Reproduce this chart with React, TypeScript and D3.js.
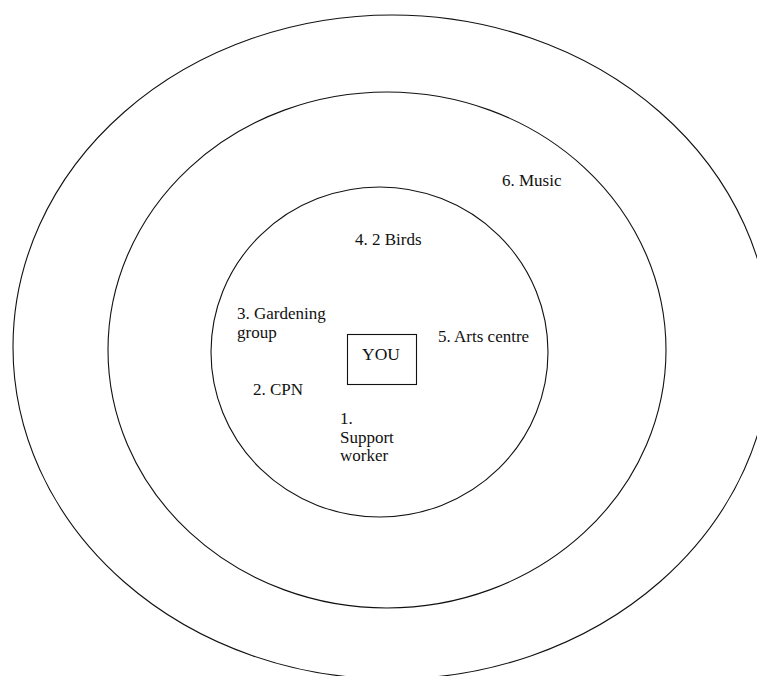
import React, { useEffect, useRef } from 'react'
import * as d3 from 'd3'

// circles of support, inner to outer
const rings = ['inner', 'middle', 'outer']

const labels = [
    '1.|Support|worker',
    '2. CPN',
    '3. Gardening|group',
    '4. 2 Birds',
    '5. Arts centre',
    '6. Music',
]

const centreLabel = 'YOU'

export default function App() {

    const d3Ref = useRef<SVGSVGElement>(null)

    useEffect(() => {
        const width = 757
        const height = 676

        const svg = d3.select(d3Ref.current!)
            .attr('width', width)
            .attr('height', height)

        svg.selectAll('*').remove()

        // ellipse geometry for each ring
        const ringGeom: { [k: string]: { cx: number, cy: number, rx: number, ry: number } } = {
            inner: { cx: 379.5, cy: 352, rx: 168.5, ry: 165 },
            middle: { cx: 387, cy: 350, rx: 279, ry: 258 },
            outer: { cx: 392, cy: 347, rx: 379, ry: 332 },
        }

        svg.append('g')
            .selectAll('ellipse')
            .data(rings.slice().reverse())
            .join('ellipse')
            .attr('cx', d => ringGeom[d].cx)
            .attr('cy', d => ringGeom[d].cy)
            .attr('rx', d => ringGeom[d].rx)
            .attr('ry', d => ringGeom[d].ry)
            .attr('fill', 'none')
            .attr('stroke', '#111')
            .attr('stroke-width', 1.1)

        // centre box
        svg.append('rect')
            .attr('x', 347.5)
            .attr('y', 334.5)
            .attr('width', 69)
            .attr('height', 50)
            .attr('fill', 'none')
            .attr('stroke', '#111')
            .attr('stroke-width', 1.1)

        svg.append('text')
            .attr('x', 362)
            .attr('y', 360)
            .attr('font-family', '"Liberation Serif", serif')
            .attr('font-size', 17.5)
            .attr('fill', '#111')
            .text(centreLabel)

        // label anchor points (first baseline)
        const labelPos = [
            { x: 340, y: 424 },
            { x: 253, y: 395 },
            { x: 237, y: 319 },
            { x: 355, y: 245 },
            { x: 438, y: 342 },
            { x: 502, y: 186 },
        ]
        const lineH = 18.5

        const g = svg.append('g')
            .attr('font-family', '"Liberation Serif", serif')
            .attr('font-size', 17)
            .attr('fill', '#111')

        g.selectAll('text')
            .data(labels)
            .join('text')
            .attr('x', (_, i) => labelPos[i].x)
            .attr('y', (_, i) => labelPos[i].y)
            .each(function (d, i) {
                d3.select(this)
                    .selectAll('tspan')
                    .data(d.split('|'))
                    .join('tspan')
                    .attr('x', labelPos[i].x)
                    .attr('dy', (_, j) => j === 0 ? 0 : lineH)
                    .text(t => t)
            })
    }, [])

    return (
        <div>
            <style>{'body{margin:0;background:#fff}'}</style>
            <svg ref={d3Ref} style={{ display: 'block' }}></svg>
        </div>
    )
}
